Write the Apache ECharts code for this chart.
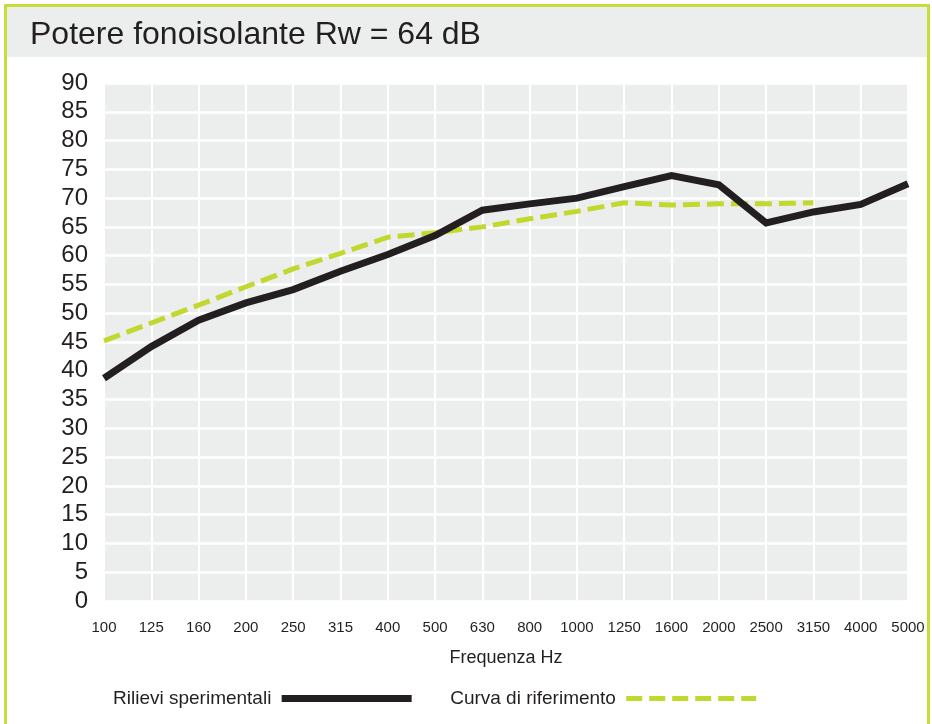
<!DOCTYPE html>
<html><head><meta charset="utf-8">
<script src="https://cdn.jsdelivr.net/npm/echarts@6/dist/echarts.min.js"></script>
<style>html,body{margin:0;padding:0;background:#fff}#c{width:932px;height:724px}</style>
</head><body><div id="c"></div>
<script>
const frequencies = ['100','125','160','200','250','315','400','500','630','800','1000','1250','1600','2000','2500','3150','4000','5000'];
const rilievi = [38.7,44.2,48.8,51.8,54.1,57.3,60.2,63.5,67.9,69.0,70.0,72.0,73.9,72.3,65.7,67.6,68.9,72.5];
const riferimento = [45.2,48.3,51.4,54.6,57.7,60.4,63.2,64.0,65.0,66.4,67.7,69.2,68.8,69.0,69.0,69.2,null,null];
const seriesNames = ['Rilievi sperimentali','Curva di riferimento'];
const titleText = 'Potere fonoisolante Rw = 64 dB';
const axisName = 'Frequenza Hz';

const FONT = '"Liberation Sans",Arial,sans-serif';
const ink = '#231f20';
const green = '#c3d82f';
const chart = echarts.init(document.getElementById('c'));
chart.setOption({
  animation: false,
  backgroundColor: '#ffffff',
  graphic: [
    {type:'rect', shape:{x:6,y:6,width:922,height:51}, style:{fill:'#eceeed'}, z:-10},
    {type:'rect', shape:{x:5.5,y:5.5,width:923,height:740}, style:{fill:null, stroke:'#c8dc3c', lineWidth:3}, z:-9}
  ],
  title: {
    text: titleText, left: 25, top: 14,
    textStyle: {fontFamily:FONT, fontSize:32, fontWeight:'normal', color: ink}
  },
  grid: {left:104, right:24, top:83, height:518, show:true, backgroundColor:'#eceeed', borderWidth:0},
  xAxis: {
    type:'category', data: frequencies, boundaryGap:false,
    axisLine:{show:false}, axisTick:{show:false},
    splitLine:{show:true, interval:0, lineStyle:{color:'#ffffff', width:2}},
    axisLabel:{interval:0, margin:19, fontFamily:FONT, fontSize:15, color:ink},
    name: axisName, nameLocation:'middle', nameGap:48,
    nameTextStyle:{fontFamily:FONT, fontSize:18, color:ink}
  },
  yAxis: {
    type:'value', min:0, max:90, interval:5,
    axisLine:{show:false}, axisTick:{show:false},
    splitLine:{show:true, lineStyle:{color:'#ffffff', width:2.5}},
    axisLabel:{margin:16, showMinLabel:true, showMaxLabel:true, fontFamily:FONT, fontSize:24, color:ink}
  },
  legend: {
    left: 108, top: 684, align:'right', itemWidth:130, itemHeight:18, itemGap:35,
    itemStyle:{opacity:0},
    formatter: function (n) { return n + ' '; },
    textStyle:{fontFamily:FONT, fontSize:19, color:ink},
    data: [
      {name: seriesNames[0], lineStyle:{width:7, color:ink}},
      {name: seriesNames[1], lineStyle:{width:5, color:green, type:[16,7]}}
    ]
  },
  series: [
    {name: seriesNames[1], type:'line', data: riferimento, showSymbol:false, symbol:'none', z:2,
     lineStyle:{color:green, width:5, type:[17,7]}, itemStyle:{color:green}},
    {name: seriesNames[0], type:'line', data: rilievi, showSymbol:false, symbol:'none', z:3,
     lineStyle:{color:ink, width:7, cap:'butt', join:'miter'}, itemStyle:{color:ink}}
  ]
});
</script>
</body></html>
